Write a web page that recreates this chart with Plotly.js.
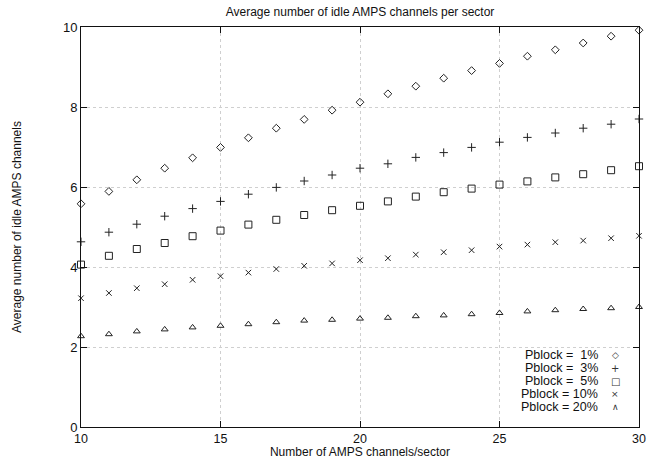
<!DOCTYPE html>
<html>
<head>
<meta charset="utf-8">
<script src="https://cdn.plot.ly/plotly-3.0.1.min.js"></script>
<style>html,body{margin:0;padding:0;background:#fff;}#chart{width:657px;height:459px;}</style>
</head>
<body>
<div id="chart"></div>
<script>
var channels = [10,11,12,13,14,15,16,17,18,19,20,21,22,23,24,25,26,27,28,29,30];
var idle1  = [5.58,5.89,6.18,6.47,6.73,6.99,7.23,7.47,7.69,7.92,8.12,8.33,8.52,8.72,8.91,9.09,9.27,9.43,9.60,9.77,9.92];
var idle3  = [4.63,4.87,5.07,5.27,5.46,5.64,5.82,5.99,6.15,6.30,6.47,6.58,6.74,6.86,6.99,7.12,7.24,7.35,7.47,7.57,7.70];
var idle5  = [4.06,4.28,4.45,4.60,4.77,4.91,5.06,5.18,5.30,5.42,5.53,5.64,5.76,5.87,5.96,6.06,6.14,6.24,6.32,6.42,6.52];
var idle10 = [3.22,3.35,3.47,3.57,3.68,3.77,3.86,3.95,4.03,4.09,4.17,4.22,4.31,4.37,4.42,4.51,4.56,4.62,4.66,4.72,4.78];
var idle20 = [2.27,2.32,2.39,2.44,2.49,2.53,2.57,2.62,2.66,2.68,2.71,2.73,2.77,2.79,2.82,2.85,2.89,2.92,2.95,2.97,3.00];
var seriesNames = ["Pblock =\u00a0\u00a01%","Pblock =\u00a0\u00a03%","Pblock =\u00a0\u00a05%","Pblock = 10%","Pblock = 20%"];
var legendGlyphs = ["\u25C7","+","\u25A1","\u00D7","\u2227"];
var xTicks = [10,15,20,25,30];
var yTicks = [0,2,4,6,8,10];

var allSeries = [idle1, idle3, idle5, idle10, idle20];
var symbols = ["diamond-open","cross-thin-open","square-open","x-thin-open","triangle-up-open"];
var sizes = [6,6,7,5.5,6];
var traces = allSeries.map(function(ys, i){
  return {
    x: channels, y: ys, type: "scatter", mode: "markers", name: seriesNames[i],
    marker: {symbol: symbols[i], size: sizes[i], color: "#222", line: {color: "#222", width: 1}},
    showlegend: false, cliponaxis: false
  };
});

var legendY = [0.18, 0.1475, 0.115, 0.0825, 0.05];
var glyphSizes = [9, 10, 10, 9, 9];
var annotations = [];
seriesNames.forEach(function(n, i){
  annotations.push({xref:"paper", yref:"paper", x:0.93, y:legendY[i], xanchor:"right", yanchor:"middle",
    text:n, showarrow:false, font:{family:"Liberation Sans, Arial, sans-serif", size:12.5, color:"#111"}});
  annotations.push({xref:"paper", yref:"paper", x:0.957, y:legendY[i], xanchor:"center", yanchor:"middle",
    text:legendGlyphs[i], showarrow:false, font:{family:"DejaVu Sans, sans-serif", size:glyphSizes[i], color:"#333"}});
});

var layout = {
  width: 657, height: 459,
  margin: {l: 81, r: 18, t: 27, b: 32},
  paper_bgcolor: "#fff", plot_bgcolor: "#fff",
  font: {family: "Liberation Sans, Arial, sans-serif", size: 12, color: "#111"},
  title: {text: "Average number of idle AMPS channels per sector", x: 0.548, xanchor: "center", y: 0.975, yanchor: "middle",
          font: {size: 12, color: "#111"}},
  xaxis: {
    range: [10, 30], tickvals: xTicks, ticktext: xTicks.map(String),
    ticks: "inside", ticklen: 6, tickcolor: "#111", showline: true, linecolor: "#111", linewidth: 1, mirror: "ticks",
    showgrid: true, gridcolor: "#cfcfcf", griddash: "dot", gridwidth: 1, zeroline: false,
    tickfont: {size: 12.5},
    title: {text: "Number of AMPS channels/sector", standoff: 0, font: {size: 12}}
  },
  yaxis: {
    range: [0, 10], tickvals: yTicks, ticktext: yTicks.map(String),
    ticks: "inside", ticklen: 6, tickcolor: "#111", showline: true, linecolor: "#111", linewidth: 1, mirror: "ticks",
    showgrid: true, gridcolor: "#cfcfcf", griddash: "dot", gridwidth: 1, zeroline: false,
    tickfont: {size: 13},
    title: {text: "Average number of idle AMPS channels", standoff: 38, font: {size: 12}}
  },
  annotations: annotations,
  showlegend: false
};
Plotly.newPlot("chart", traces, layout, {displayModeBar: false, staticPlot: true});
</script>
</body>
</html>
